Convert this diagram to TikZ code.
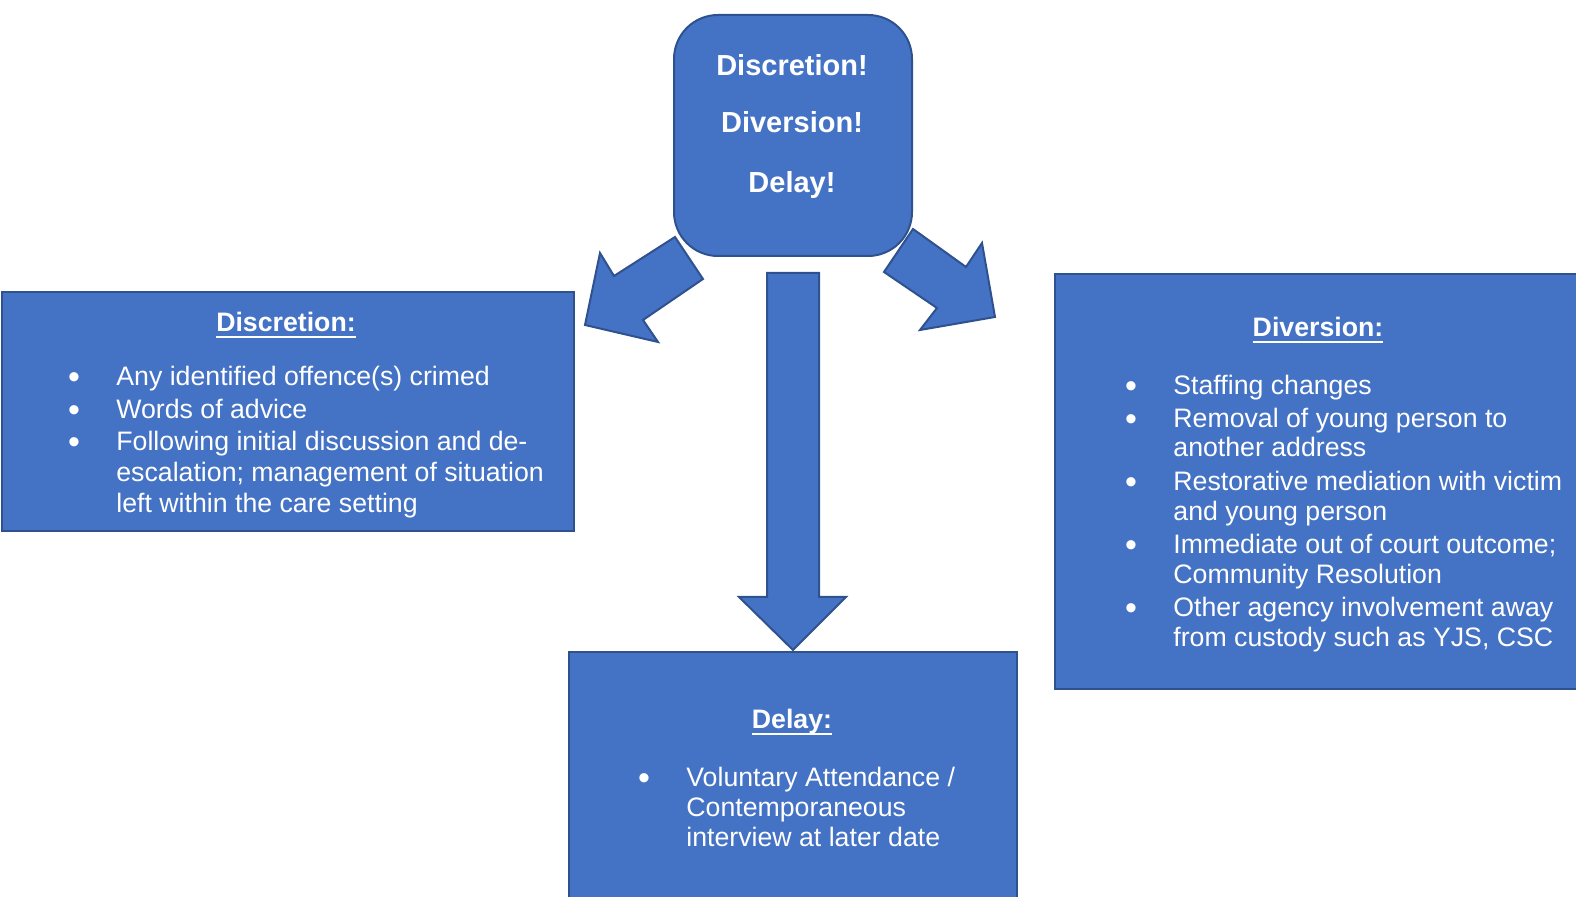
\documentclass[tikz,border=0pt]{standalone}
\usepackage{fontspec}
\setmainfont{Liberation Sans}
\definecolor{boxfill}{HTML}{4472C4}
\definecolor{boxline}{HTML}{2F528F}
\newcommand\myul[1]{\setbox0\hbox{#1}\rlap{\rule[-3pt]{\wd0}{1.2pt}}\box0}
\begin{document}
\begin{tikzpicture}[x=0.5pt,y=-0.5pt,
  shapebox/.style={fill=boxfill,draw=boxline,line width=1pt},
  bodytxt/.style={text=white,font=\fontsize{13.35}{15.5}\selectfont,inner sep=0pt,anchor=base west},
  bul/.style={text=white,font=\fontsize{17}{18}\selectfont,inner sep=0pt,anchor=base,yshift=-1.2pt},
  titletxt/.style={text=white,font=\bfseries\fontsize{13.35}{15.5}\selectfont,inner sep=0pt,anchor=base},
  headtxt/.style={text=white,font=\bfseries\fontsize{14.5}{17}\selectfont,inner sep=0pt,anchor=base},
]
\useasboundingbox (0,0) rectangle (1576,897);

% block arrows
\draw[shapebox] (767,273) -- (819,273) -- (819,597) -- (846,597) -- (793,650) -- (739,597) -- (767,597) -- cycle;
\draw[shapebox] (675,237) -- (703,279) -- (643,320) -- (658,342) -- (585,325) -- (600,253) -- (614,276) -- cycle;
\draw[shapebox] (913,229) -- (884,272) -- (937,308) -- (920,330) -- (995,317) -- (982,243) -- (966,267) -- cycle;

% boxes
\node[shapebox, rounded corners=22pt, anchor=north west, minimum width=119pt, minimum height=120.5pt, inner sep=0pt] (hub) at (673,14) {};
\node[shapebox, anchor=north west, minimum width=286pt, minimum height=119.5pt, inner sep=0pt] (discbox) at (1,291) {};
\node[shapebox, anchor=north west, minimum width=270pt, minimum height=207.5pt, inner sep=0pt] (divbox) at (1054,273) {};
\node[shapebox, anchor=north west, minimum width=224pt, minimum height=130pt, inner sep=0pt] (delbox) at (568,651) {};

% hub text
\node[headtxt] (h1) at (792,76) {Discretion!};
\node[headtxt] (h2) at (792,133) {Diversion!};
\node[headtxt] (h3) at (792,193) {Delay!};

% discretion box
\node[titletxt] (dt) at (286,332) {\myul{Discretion:}};
\node[bul] (db1) at (74,386) {•};
\node[bodytxt] (d1) at (116,386) {Any identified offence(s) crimed};
\node[bul] (db2) at (74,419) {•};
\node[bodytxt] (d2) at (116,419) {Words of advice};
\node[bul] (db3) at (74,451) {•};
\node[bodytxt] (d3a) at (116,451) {Following initial discussion and de-};
\node[bodytxt] (d3b) at (116,482) {escalation; management of situation};
\node[bodytxt] (d3c) at (116,513) {left within the care setting};

% diversion box
\node[titletxt] (vt) at (1318,337) {\myul{Diversion:}};
\node[bul] (vb1) at (1131,395) {•};
\node[bodytxt] (v1) at (1173,395) {Staffing changes};
\node[bul] (vb2) at (1131,428) {•};
\node[bodytxt] (v2a) at (1173,428) {Removal of young person to};
\node[bodytxt] (v2b) at (1173,457) {another address};
\node[bul] (vb3) at (1131,491) {•};
\node[bodytxt] (v3a) at (1173,491) {Restorative mediation with victim};
\node[bodytxt] (v3b) at (1173,521) {and young person};
\node[bul] (vb4) at (1131,554) {•};
\node[bodytxt] (v4a) at (1173,554) {Immediate out of court outcome;};
\node[bodytxt] (v4b) at (1173,584) {Community Resolution};
\node[bul] (vb5) at (1131,617) {•};
\node[bodytxt] (v5a) at (1173,617) {Other agency involvement away};
\node[bodytxt] (v5b) at (1173,647) {from custody such as YJS, CSC};

% delay box
\node[titletxt] (lt) at (792,729) {\myul{Delay:}};
\node[bul] (lb1) at (644,787) {•};
\node[bodytxt] (l1a) at (686,787) {Voluntary Attendance /};
\node[bodytxt] (l1b) at (686,817) {Contemporaneous};
\node[bodytxt] (l1c) at (686,847) {interview at later date};
\end{tikzpicture}
\end{document}
